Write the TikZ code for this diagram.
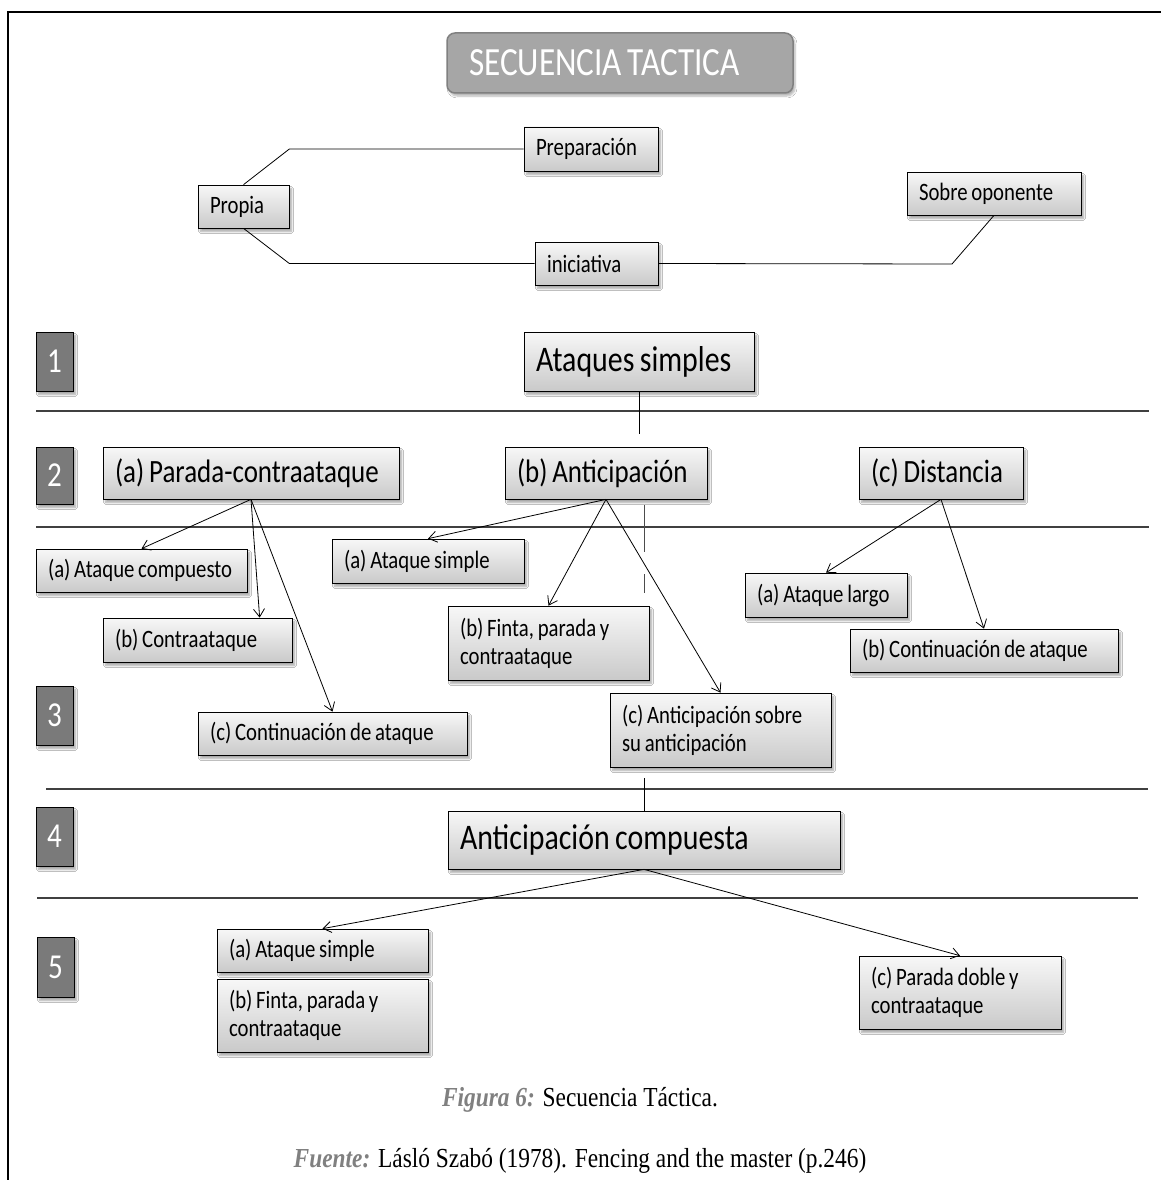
\documentclass[tikz,border=0pt]{standalone}
\usepackage{fontspec}
\setmainfont{Carlito}[FakeStretch=0.83]
\newfontfamily\capfont{Liberation Serif}[FakeStretch=0.85]
\usetikzlibrary{arrows.meta,shadows.blur}
% one line of box text, set with narrow word spaces
\newcommand\tx[1]{\mbox{\spaceskip=0.15em plus 0.05em\relax #1}}

\begin{document}
\begin{tikzpicture}[x=1pt,y=-1pt,
  card/.style={draw=black, line width=0.7pt, top color=gray!6, bottom color=gray!42,
    blur shadow={shadow xshift=2.5pt, shadow yshift=-3.5pt, shadow blur steps=6, shadow opacity=35},
    inner xsep=12pt, inner ysep=2pt, align=left},
  boxs/.style={card, font=\fontsize{25}{28}\selectfont},
  boxl/.style={card, font=\fontsize{32.5}{38}\selectfont},
  boxh/.style={card, font=\fontsize{36}{42}\selectfont},
  lvlbox/.style={draw=black, line width=0.7pt, fill=black!52, text=white,
    font=\fontsize{35}{40}\selectfont, minimum width=37pt, inner sep=0pt,
    blur shadow={shadow xshift=2.5pt, shadow yshift=-3.5pt, shadow blur steps=6, shadow opacity=35}},
  seprule/.style={black!75, line width=1.3pt},
  link/.style={line width=0.8pt},
  arr/.style={link, -{Straight Barb[length=8pt,width=11pt]}},
]
\useasboundingbox (0,0) rectangle (1161,1180);
\fill[white] (0,0) rectangle (1161,1180);

% page frame
\draw[line width=2.5pt] (8,1180) -- (8,12) -- (1161,12);

% level separators
\draw[seprule] (36,411) -- (1149,411);
\draw[seprule] (36,527) -- (1149,527);
\draw[seprule] (46,789) -- (1148,789);
\draw[seprule] (37,898) -- (1138,898);

% title
\node[draw=black!50, line width=1.5pt, fill=black!35, rounded corners=8pt, text=white,
  font=\fontsize{40}{44}\selectfont, minimum width=346pt, minimum height=60pt,
  inner xsep=22pt, text width=302pt, align=left,
  blur shadow={shadow xshift=2pt, shadow yshift=-3pt, shadow blur steps=6, shadow opacity=30}]
  (title) at (620,63) {\tx{SECUENCIA TACTICA}};

% initiative block
\node[boxs, minimum width=134pt, text width=110pt, minimum height=44pt] (prep) at (591,149) {\tx{Preparación}};
\node[boxs, minimum width=91pt, text width=67pt, minimum height=43pt] (propia) at (243.5,206.5) {\tx{Propia}};
\node[boxs, minimum width=174pt, text width=150pt, minimum height=43pt] (sobre) at (994,193.5) {\tx{Sobre oponente}};
\node[boxs, minimum width=123pt, text width=99pt, minimum height=43pt] (inic) at (596.5,263.5) {\tx{iniciativa}};

\draw[link] (propia.north) -- (propia.north east |- prep.west) -- (prep.west);
\draw[link] (propia.south) -- (propia.south east |- inic.west) -- (inic.west);
\coordinate (sbend) at (952,264);
\draw[link] (inic.east) -- (sbend) -- (sobre.south);

% level numbers
\node[lvlbox, minimum height=59pt] (n1) at (54.5,361.5) {1};
\node[lvlbox, minimum height=57pt] (n2) at (54.5,475.5) {2};
\node[lvlbox, minimum height=59pt] (n3) at (54.5,715.5) {3};
\node[lvlbox, minimum height=59pt] (n4) at (54.5,836.5) {4};
\node[lvlbox, minimum height=60pt] (n5) at (55.5,967) {5};

% level 1
\node[boxh, minimum width=230pt, text width=206pt, minimum height=59pt] (ataques) at (639,361.5) {\tx{Ataques simples}};

% level 2
\node[boxl, minimum width=296pt, text width=272pt, minimum height=52pt] (parada) at (251,473) {\tx{(a) Parada-contraataque}};
\node[boxl, minimum width=202pt, text width=178pt, minimum height=52pt] (antic) at (606,473) {\tx{(b) Anticipación}};
\node[boxl, minimum width=164pt, text width=140pt, minimum height=52pt] (dist) at (941,473) {\tx{(c) Distancia}};

% level 3
\node[boxs, minimum width=211pt, text width=187pt, minimum height=43pt] (acomp) at (141.5,570.5) {\tx{(a) Ataque compuesto}};
\node[boxs, minimum width=189pt, text width=165pt, minimum height=44pt] (contra) at (197.5,640) {\tx{(b) Contraataque}};
\node[boxs, minimum width=269pt, text width=245pt, minimum height=43pt] (contc) at (332.5,733.5) {\tx{(c) Continuación de ataque}};
\node[boxs, minimum width=192pt, text width=168pt, minimum height=44pt] (asimp) at (428,561) {\tx{(a) Ataque simple}};
\node[boxs, minimum width=201pt, text width=177pt, minimum height=74pt] (finta) at (548.5,643) {\tx{(b) Finta, parada y}\\\tx{contraataque}};
\node[boxs, minimum width=221pt, text width=197pt, minimum height=74pt] (sobreant) at (720.5,730) {\tx{(c) Anticipación sobre}\\\tx{su anticipación}};
\node[boxs, minimum width=162pt, text width=138pt, minimum height=44pt] (largo) at (826,595) {\tx{(a) Ataque largo}};
\node[boxs, minimum width=268pt, text width=244pt, minimum height=43pt] (contb) at (984,650.5) {\tx{(b) Continuación de ataque}};

% level 4
\node[boxh, minimum width=392pt, text width=368pt, minimum height=58pt] (compuesta) at (644,840) {\tx{Anticipación compuesta}};

% level 5
\node[boxs, minimum width=211pt, text width=187pt, minimum height=43pt] (asimp5) at (322.5,950.5) {\tx{(a) Ataque simple}};
\node[boxs, minimum width=211pt, text width=187pt, minimum height=73pt] (finta5) at (322.5,1015.5) {\tx{(b) Finta, parada y}\\\tx{contraataque}};
\node[boxs, minimum width=202pt, text width=178pt, minimum height=73pt] (doble) at (960,992.5) {\tx{(c) Parada doble y}\\\tx{contraataque}};

% connectors
\draw[link] (ataques.south) -- ++(0,43);
\draw[black!70, line width=1pt, dash pattern=on 47pt off 22pt on 19pt off 200pt] (644,505) -- (644,593);
\draw[link] (compuesta.north) -- ++(0,-33);

\draw[arr] (parada.south) -- (acomp.north);
\draw[arr] (parada.south) -- ([xshift=157pt]contra.north west);
\draw[arr] (parada.south) -- (contc.north);
\draw[arr] (antic.south) -- (asimp.north);
\draw[arr] (antic.south) -- (finta.north);
\draw[arr] (antic.south) -- (sobreant.north);
\draw[arr] (dist.south) -- (largo.north);
\draw[arr] (dist.south) -- (contb.north);
\draw[arr] (compuesta.south) -- (asimp5.north);
\draw[arr] (compuesta.south) -- (doble.north);

% caption
\node[font=\capfont\fontsize{27.5}{32}\selectfont] (cap) at (580,1100)
  {\textcolor{gray}{\textbf{\textit{Figura 6:}}} Secuencia Táctica.};
\node[font=\capfont\fontsize{27.5}{32}\selectfont] (src) at (580,1161)
  {\textcolor{gray}{\textbf{\textit{Fuente:}}} Lásló Szabó (1978). Fencing and the master (p.246)};
\end{tikzpicture}
\end{document}
